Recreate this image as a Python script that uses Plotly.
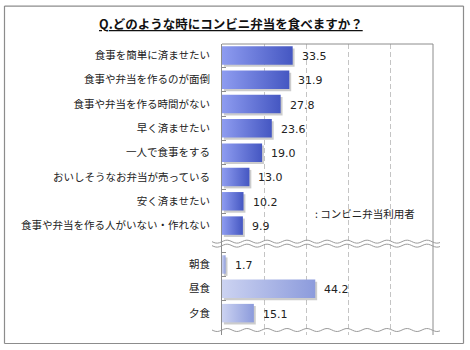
import math
import plotly.graph_objects as go

# Survey data (%)
reasons = [
    "食事を簡単に済ませたい",
    "食事や弁当を作るのが面倒",
    "食事や弁当を作る時間がない",
    "早く済ませたい",
    "一人で食事をする",
    "おいしそうなお弁当が売っている",
    "安く済ませたい",
    "食事や弁当を作る人がいない・作れない",
]
reason_values = [33.5, 31.9, 27.8, 23.6, 19.0, 13.0, 10.2, 9.9]

meals = ["朝食", "昼食", "夕食"]
meal_values = [1.7, 44.2, 15.1]

title_text = "Q.どのような時にコンビニ弁当を食べますか？"
note_text = ": コンビニ弁当利用者"

# Canvas geometry
W, H = 470, 350
PL, PR, PT, PB = 222, 433, 43.5, 335


def px_x(p):
    return (p - PL) / (PR - PL)


def px_y(p):
    return (PB - p) / (PB - PT)


GAP = 1.6  # extra spacing (rows) between the two groups
rows_top = list(range(len(reasons)))
rows_bot = [len(reasons) - 1 + GAP + j for j in range(len(meals))]
y_min = -0.47
y_max = rows_bot[-1] + 0.9
BAR_H = 0.76

fig = go.Figure()


def add_bar(value, yc, c_light, c_dark):
    y0, y1 = yc - BAR_H / 2, yc + BAR_H / 2
    # soft drop shadow
    dx, dy = 0.9, 0.09
    fig.add_trace(go.Scatter(
        x=[dx, value + dx, value + dx, dx, dx],
        y=[y0 + dy, y0 + dy, y1 + dy, y1 + dy, y0 + dy],
        fill="toself", mode="lines", line=dict(width=0),
        fillcolor="rgba(110,110,110,0.35)", hoverinfo="skip", showlegend=False,
    ))
    fig.add_trace(go.Scatter(
        x=[0, value, value, 0, 0],
        y=[y0, y0, y1, y1, y0],
        fill="toself", mode="lines", line=dict(width=0),
        fillgradient=dict(type="horizontal",
                          colorscale=[[0, c_light], [1, c_dark]]),
        hoverinfo="skip", showlegend=False,
    ))
    fig.add_annotation(
        x=value, y=yc, xref="x", yref="y", text=f"{value:.1f}",
        showarrow=False, xanchor="left", xshift=7, yshift=-1,
        font=dict(family="DejaVu Sans", size=11, color="#222222"),
    )


for v, yc in zip(reason_values, rows_top):
    add_bar(v, yc, "#8e9cf0", "#4557c2")
for v, yc in zip(meal_values, rows_bot):
    add_bar(v, yc, "#ccd3f1", "#8c9bdc")

shapes = []
# solid right border at 100 and top border
shapes.append(dict(type="line", xref="paper", yref="paper", x0=1, x1=1, y0=0, y1=1,
                   line=dict(color="#8c8c8c", width=1)))
shapes.append(dict(type="line", xref="paper", yref="paper", x0=0, x1=1, y0=1, y1=1,
                   line=dict(color="#8c8c8c", width=1)))
# outer frame
frame_l, frame_r, frame_t, frame_b = px_x(4.5), px_x(463.5), px_y(5.5), px_y(343.5)
for x0, x1, y0, y1 in [(frame_l, frame_r, frame_t, frame_t),
                       (frame_l, frame_r, frame_b, frame_b),
                       (frame_l, frame_l, frame_b, frame_t),
                       (frame_r, frame_r, frame_b, frame_t)]:
    shapes.append(dict(type="line", xref="paper", yref="paper",
                       x0=x0, x1=x1, y0=y0, y1=y1,
                       line=dict(color="#8c8c8c", width=1.2)))


def wave_path(py, x_start=212, x_end=440, period=20.0, amp=1.5):
    pts = []
    n = 120
    for k in range(n + 1):
        xp = x_start + (x_end - x_start) * k / n
        yp = py + amp * math.sin(2 * math.pi * (xp - x_start) / period)
        pts.append(f"{px_x(xp):.5f},{px_y(yp):.5f}")
    return "M " + " L ".join(pts)


for py in (241.5, 245.5, 330.0):
    shapes.append(dict(type="path", xref="paper", yref="paper", path=wave_path(py),
                       line=dict(color="#9a9a9a", width=1)))

fig.update_layout(shapes=shapes)

# title and note
fig.add_annotation(
    x=px_x(231), y=px_y(23), xref="paper", yref="paper",
    xanchor="center", yanchor="middle",
    text=f"<b><u>{title_text}</u></b>", showarrow=False,
    font=dict(family="Noto Sans CJK JP", size=12.5, color="#111111"),
)
fig.add_annotation(
    x=px_x(313), y=px_y(213), xref="paper", yref="paper", text=note_text,
    showarrow=False, xanchor="left", yanchor="middle",
    font=dict(family="Noto Sans CJK JP", size=10.5, color="#222222"),
)

minor_ticks = [r + 0.5 for r in rows_top[:-1]] + [rows_bot[0] - 0.5] + \
              [r + 0.5 for r in rows_bot[:-1]]

fig.update_layout(
    width=W, height=H,
    margin=dict(l=PL, r=W - PR, t=PT, b=H - PB),
    paper_bgcolor="white", plot_bgcolor="white",
    showlegend=False,
    xaxis=dict(range=[0, 100], dtick=20, showticklabels=False, ticks="",
               showgrid=True, gridcolor="#c4c4c4", griddash="5px,3px", gridwidth=1,
               zeroline=False, showline=False, fixedrange=True),
    yaxis=dict(range=[y_max, y_min], tickvals=rows_top + rows_bot,
               ticktext=reasons + meals, ticks="", showgrid=False, zeroline=False,
               showline=True, linecolor="#8c8c8c", linewidth=1,
               ticklabelstandoff=9,
               tickfont=dict(family="Noto Sans CJK JP", size=10.5, color="#222222"),
               minor=dict(tickvals=minor_ticks, ticks="inside", ticklen=4,
                          tickcolor="#8c8c8c", showgrid=False),
               fixedrange=True),
)

fig.write_html("out.html")
